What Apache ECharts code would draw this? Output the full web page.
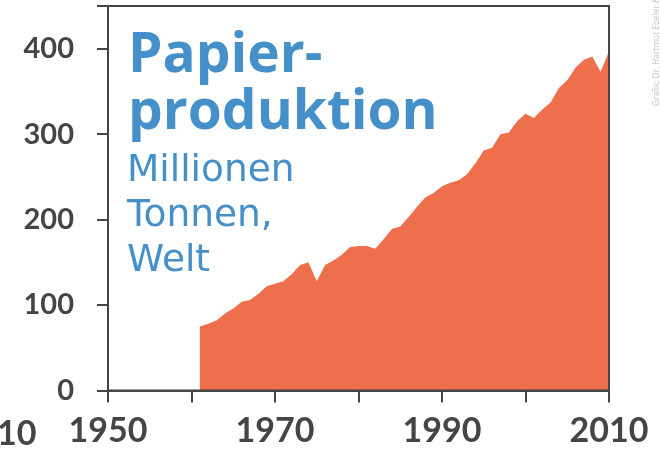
<!DOCTYPE html>
<html>
<head>
<meta charset="utf-8">
<script src="https://cdn.jsdelivr.net/npm/echarts@6/dist/echarts.min.js"></script>
<style>
html,body{margin:0;padding:0;background:#fff;}
#c{width:660px;height:450px;}
</style>
</head>
<body>
<div id="c"></div>
<script>
const years = [1961,1962,1963,1964,1965,1966,1967,1968,1969,1970,
               1971,1972,1973,1974,1975,1976,1977,1978,1979,1980,
               1981,1982,1983,1984,1985,1986,1987,1988,1989,1990,
               1991,1992,1993,1994,1995,1996,1997,1998,1999,2000,
               2001,2002,2003,2004,2005,2006,2007,2008,2009,2010];
const production = [75,78,82,90,96,104,106,113,122,125,
                    128,136,147,150,128,147,152,159,168,169,
                    169,166,177,189,192,203,215,226,231,239,
                    243,246,253,266,281,284,300,302,315,324,
                    319,329,337,354,363,378,387,391,373,397];
const xLabels = [1950,1970,1990,2010];
const titleLines = ['Papier-','produktion'];
const subLines = ['Millionen','Tonnen,','Welt'];
const credit = 'Grafik: Dr. Hartmut Ebeler &';

const chart = echarts.init(document.getElementById('c'), null, {renderer:'canvas'});
const axisColor = '#454545';
const blue = '#4690c9';

const graphics = [];
titleLines.forEach((t,i)=>{
  graphics.push({type:'text', left:128, top:29 + i*57, z:10,
    style:{text:t, fill:blue, font:'bold 55px "Open Sans"'}});
});
subLines.forEach((t,i)=>{
  graphics.push({type:'text', left:127, top:152 + i*45, z:10,
    style:{text:t, fill:blue, font:'37.5px "DejaVu Sans"'}});
});
graphics.push({type:'text', x:-3, y:417, z:10,
  style:{text:'10', fill:axisColor, font:'bold 34px Lato'}});
graphics.push({type:'text', x:657, y:106, rotation:Math.PI/2, z:10,
  style:{text:credit, fill:'#c4c4c4', font:'8.3px "Open Sans"', align:'left', verticalAlign:'middle'}});

chart.setOption({
  animation:false,
  grid:{left:108, right:51, top:6, bottom:59.5, show:true, borderColor:axisColor, borderWidth:2, z:5},
  xAxis:{type:'value', min:1950, max:2010, interval:10, z:6,
    axisLine:{show:true, lineStyle:{color:axisColor, width:2}},
    axisTick:{show:true, length:12, lineStyle:{color:axisColor, width:2}},
    splitLine:{show:false},
    axisLabel:{margin:24, color:axisColor, fontFamily:'Lato', fontWeight:'bold', fontSize:34,
      formatter:v=> xLabels.indexOf(v) >= 0 ? String(v) : ''}
  },
  yAxis:{type:'value', min:0, max:450, interval:100, z:6,
    axisLine:{show:true, lineStyle:{color:axisColor, width:2}},
    axisTick:{show:true, length:11, lineStyle:{color:axisColor, width:2}},
    splitLine:{show:false},
    axisLabel:{margin:34, color:axisColor, fontFamily:'Lato', fontWeight:'bold', fontSize:29,
      formatter:v=> v % 100 === 0 && v <= 400 ? String(v) : ''}
  },
  series:[{type:'line', data: years.map((y,i)=>[y, production[i]]),
    showSymbol:false, symbol:'none', lineStyle:{width:0}, areaStyle:{color:'#ee6f4c', opacity:1}, z:2}],
  graphic: graphics
});
</script>
</body>
</html>
